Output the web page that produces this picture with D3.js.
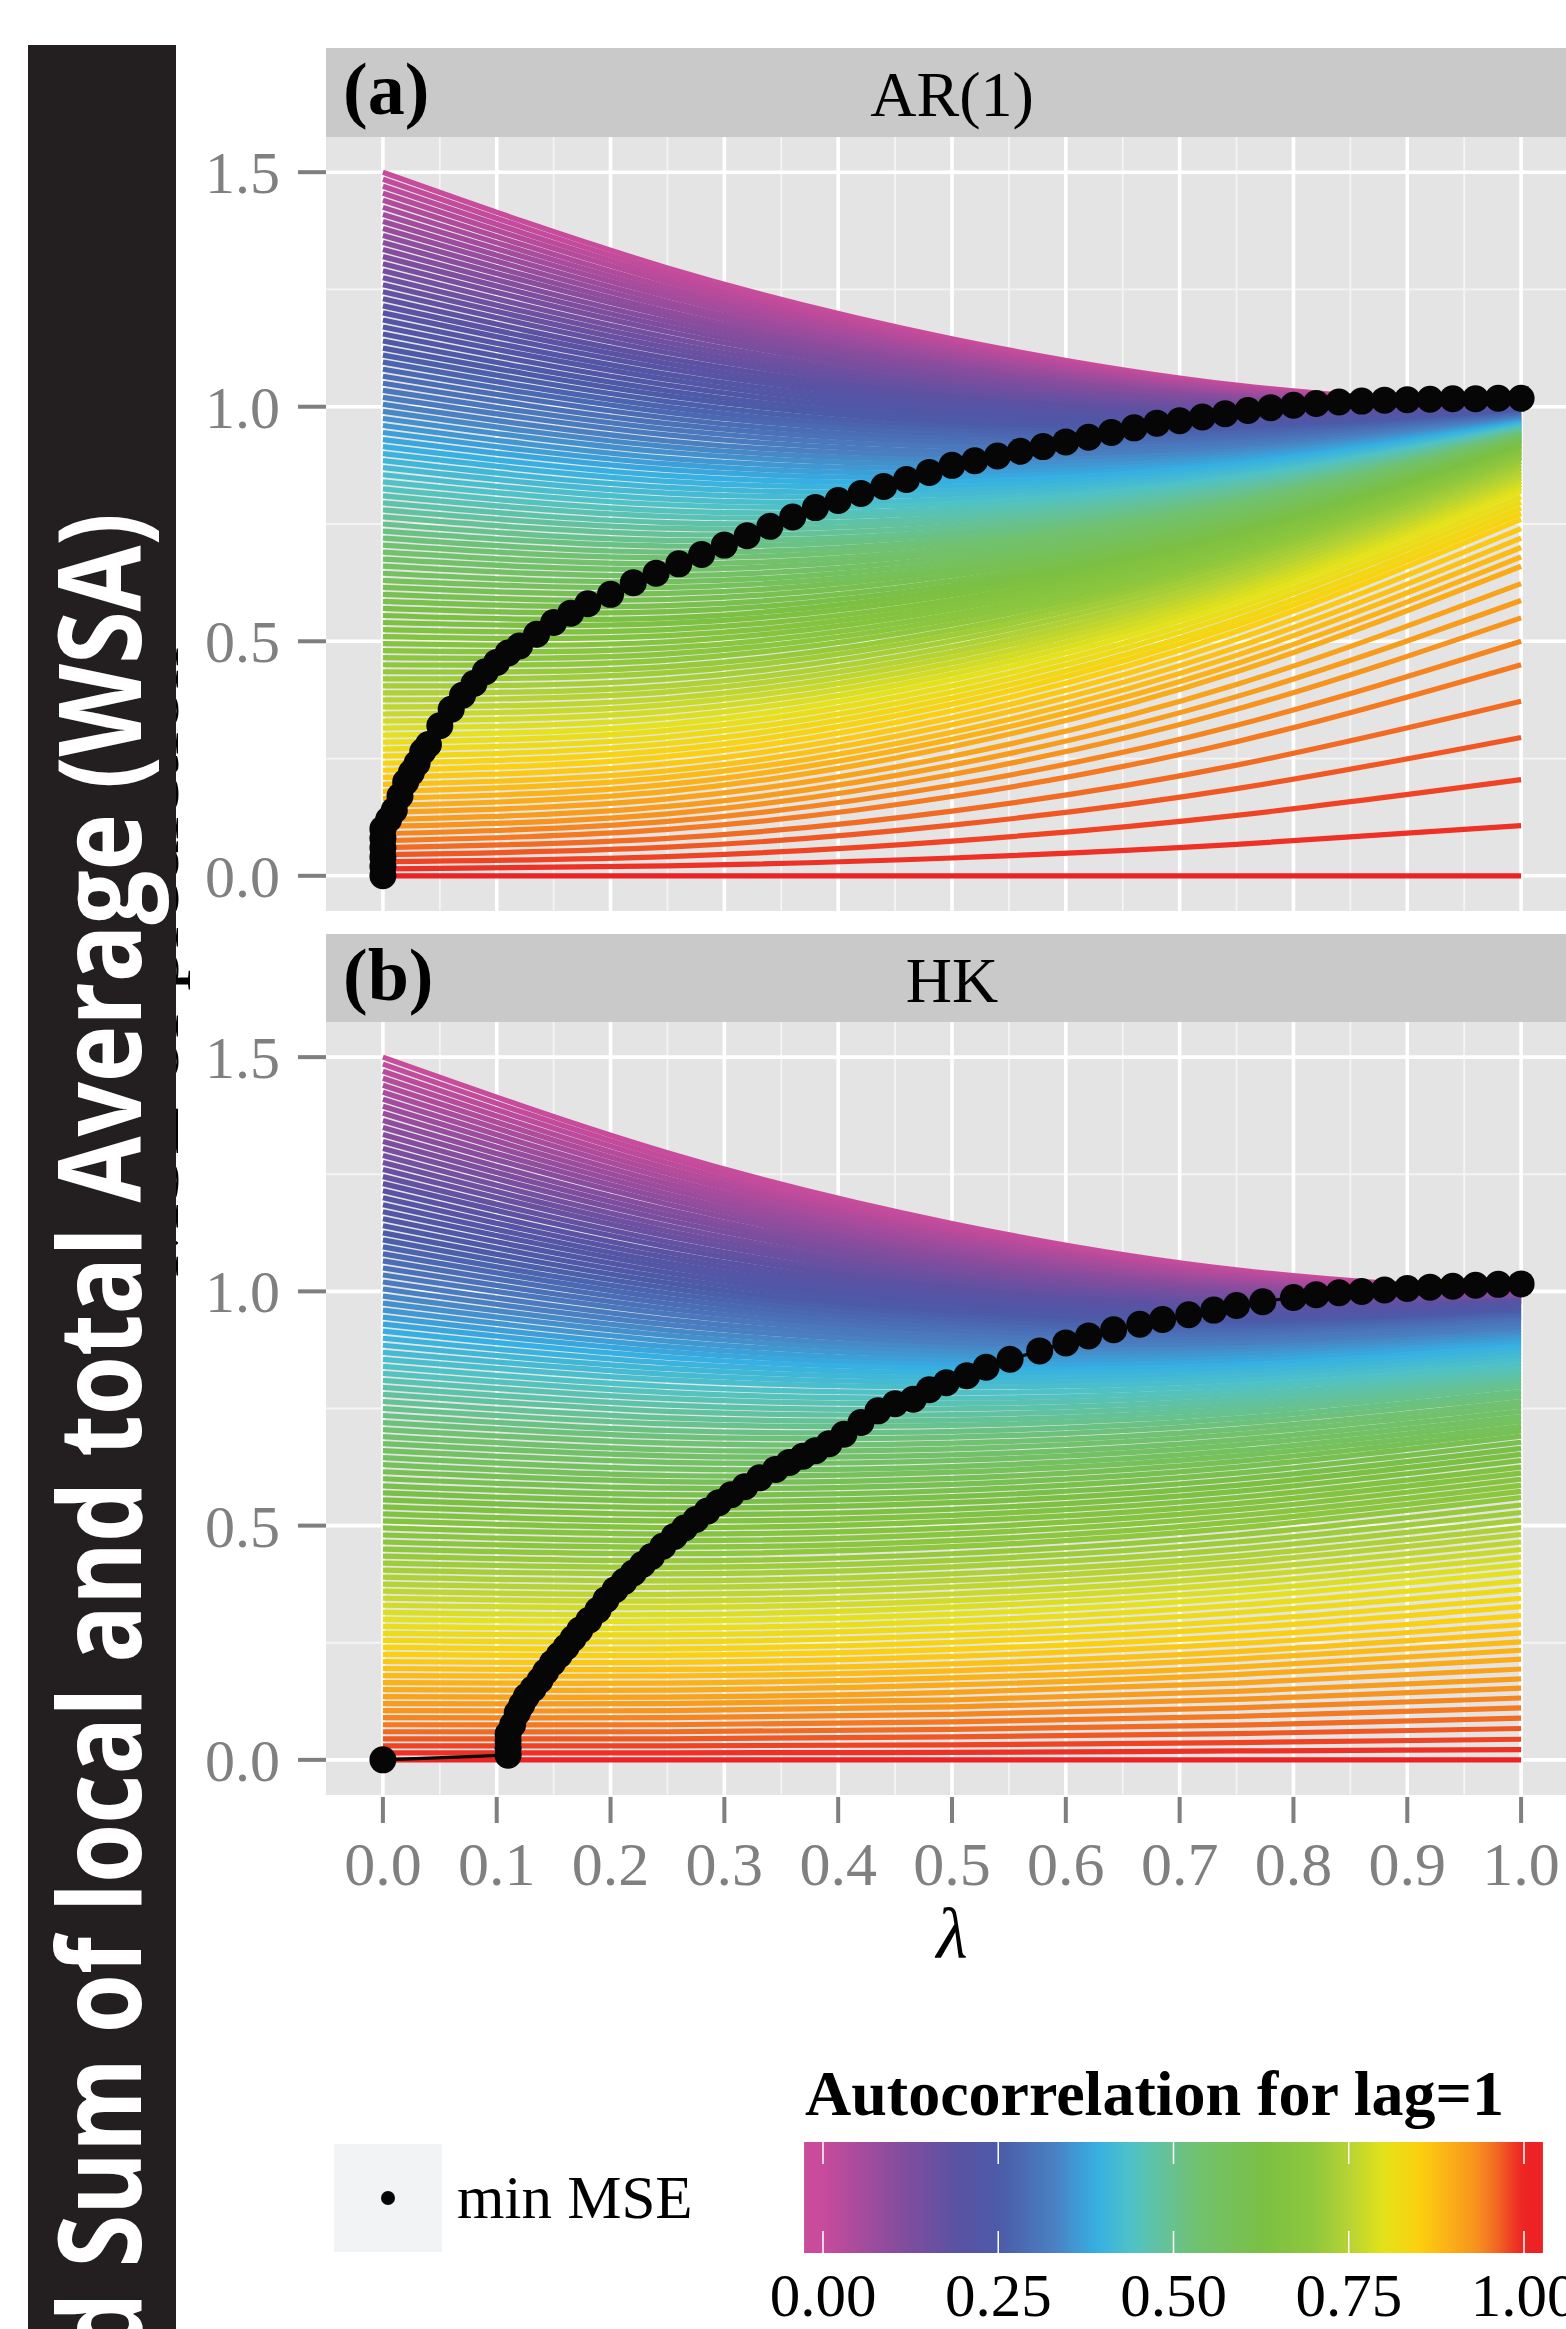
<!DOCTYPE html>
<html><head><meta charset="utf-8">
<script src="https://cdn.jsdelivr.net/npm/d3@7"></script>
<style>body{margin:0;background:#fff}svg{display:block}</style>
</head><body>
<svg id="c" width="1566" height="2329"></svg>
<script>
// ---------- axis / legend labels ----------
const lambdaTicks=[0,0.1,0.2,0.3,0.4,0.5,0.6,0.7,0.8,0.9,1.0];
const lambdaTickLabels=["0.0","0.1","0.2","0.3","0.4","0.5","0.6","0.7","0.8","0.9","1.0"];
const yTicks=[0,0.5,1.0,1.5];
const yTickLabels=["0.0","0.5","1.0","1.5"];
const barTicks=[0,0.25,0.5,0.75,1];
const barTickLabels=["0.00","0.25","0.50","0.75","1.00"];
const panelNames=["AR(1)","HK"];
const panelTags=["(a)","(b)"];
// ---------- data: one curve per lag-1 autocorrelation, MSE read at lambda grid ----------
const rhoLevels=[0,0.01,0.02,0.03,0.04,0.05,0.06,0.07,0.08,0.09,0.1,0.11,0.12,0.13,0.14,0.15,0.16,0.17,0.18,0.19,0.2,0.21,0.22,0.23,0.24,0.25,0.26,0.27,0.28,0.29,0.3,0.31,0.32,0.33,0.34,0.35,0.36,0.37,0.38,0.39,0.4,0.41,0.42,0.43,0.44,0.45,0.46,0.47,0.48,0.49,0.5,0.51,0.52,0.53,0.54,0.55,0.56,0.57,0.58,0.59,0.6,0.61,0.62,0.63,0.64,0.65,0.66,0.67,0.68,0.69,0.7,0.71,0.72,0.73,0.74,0.75,0.76,0.77,0.78,0.79,0.8,0.81,0.82,0.83,0.84,0.85,0.86,0.87,0.88,0.89,0.9,0.91,0.92,0.93,0.94,0.95,0.96,0.97,0.98,0.99,1];
const lambdaGrid=[0,0.25,0.5,0.75,1];
const mseLambda0=[1.500,1.485,1.470,1.455,1.440,1.425,1.410,1.395,1.380,1.365,1.350,1.335,1.320,1.305,1.290,1.275,1.260,1.245,1.230,1.215,1.200,1.185,1.170,1.155,1.140,1.125,1.110,1.095,1.080,1.065,1.050,1.035,1.020,1.005,0.990,0.975,0.960,0.945,0.930,0.915,0.900,0.885,0.870,0.855,0.840,0.825,0.810,0.795,0.780,0.765,0.750,0.735,0.720,0.705,0.690,0.675,0.660,0.645,0.630,0.615,0.600,0.585,0.570,0.555,0.540,0.525,0.510,0.495,0.480,0.465,0.450,0.435,0.420,0.405,0.390,0.375,0.360,0.345,0.330,0.315,0.300,0.285,0.270,0.255,0.240,0.225,0.210,0.195,0.180,0.165,0.150,0.135,0.120,0.105,0.090,0.075,0.060,0.045,0.030,0.015,0.000];
const arMse25=[1.296,1.286,1.276,1.266,1.255,1.245,1.235,1.224,1.214,1.203,1.193,1.182,1.171,1.160,1.148,1.137,1.126,1.115,1.103,1.092,1.081,1.069,1.058,1.046,1.034,1.023,1.011,0.999,0.988,0.976,0.964,0.952,0.940,0.927,0.915,0.903,0.890,0.878,0.866,0.853,0.841,0.828,0.816,0.803,0.791,0.778,0.766,0.753,0.741,0.728,0.715,0.703,0.690,0.678,0.665,0.653,0.640,0.627,0.615,0.602,0.589,0.576,0.563,0.550,0.538,0.525,0.512,0.499,0.486,0.473,0.460,0.446,0.433,0.419,0.405,0.392,0.378,0.365,0.351,0.337,0.323,0.310,0.296,0.282,0.268,0.254,0.239,0.224,0.210,0.195,0.180,0.164,0.148,0.132,0.116,0.099,0.080,0.061,0.041,0.021,0.000];
const arMse50=[1.145,1.139,1.133,1.127,1.120,1.114,1.108,1.101,1.095,1.088,1.082,1.075,1.067,1.060,1.052,1.045,1.037,1.030,1.022,1.014,1.007,0.999,0.990,0.982,0.974,0.966,0.957,0.949,0.941,0.932,0.924,0.915,0.905,0.896,0.887,0.878,0.869,0.859,0.850,0.841,0.831,0.822,0.813,0.803,0.794,0.784,0.775,0.765,0.756,0.746,0.736,0.727,0.717,0.708,0.698,0.689,0.679,0.669,0.659,0.650,0.640,0.629,0.619,0.609,0.599,0.588,0.578,0.568,0.557,0.547,0.536,0.524,0.513,0.501,0.489,0.477,0.466,0.454,0.442,0.430,0.418,0.405,0.392,0.379,0.366,0.352,0.337,0.322,0.306,0.291,0.275,0.255,0.236,0.216,0.193,0.169,0.138,0.108,0.074,0.038,0.000];
const arMse75=[1.046,1.043,1.041,1.038,1.035,1.032,1.029,1.026,1.023,1.020,1.017,1.013,1.009,1.006,1.002,0.998,0.994,0.990,0.986,0.982,0.978,0.973,0.969,0.964,0.959,0.954,0.949,0.944,0.939,0.934,0.928,0.923,0.917,0.912,0.906,0.900,0.895,0.889,0.883,0.878,0.872,0.866,0.860,0.854,0.849,0.843,0.837,0.831,0.825,0.819,0.813,0.807,0.801,0.795,0.789,0.783,0.777,0.770,0.764,0.758,0.752,0.745,0.737,0.730,0.723,0.716,0.709,0.701,0.694,0.687,0.679,0.670,0.661,0.651,0.641,0.632,0.622,0.613,0.603,0.593,0.583,0.571,0.559,0.546,0.534,0.521,0.504,0.487,0.470,0.452,0.435,0.408,0.382,0.355,0.321,0.286,0.236,0.186,0.129,0.067,0.000];
const arMse100=[1.000,1.000,1.000,0.999,0.999,0.999,0.998,0.998,0.998,0.998,0.998,0.997,0.997,0.997,0.996,0.996,0.996,0.996,0.996,0.995,0.995,0.993,0.992,0.990,0.988,0.987,0.985,0.983,0.982,0.980,0.978,0.977,0.975,0.974,0.972,0.970,0.969,0.967,0.965,0.964,0.962,0.960,0.959,0.957,0.955,0.954,0.952,0.950,0.948,0.947,0.945,0.943,0.941,0.939,0.937,0.935,0.933,0.931,0.929,0.927,0.925,0.921,0.918,0.915,0.911,0.907,0.904,0.901,0.897,0.893,0.890,0.883,0.876,0.869,0.862,0.855,0.848,0.841,0.834,0.827,0.820,0.808,0.796,0.784,0.772,0.760,0.740,0.720,0.700,0.680,0.660,0.623,0.587,0.550,0.500,0.450,0.372,0.295,0.205,0.107,0.000];
const hkMse25=[1.296,1.285,1.274,1.263,1.252,1.241,1.230,1.219,1.208,1.197,1.186,1.174,1.163,1.152,1.140,1.129,1.118,1.106,1.095,1.083,1.072,1.061,1.051,1.040,1.029,1.018,1.007,0.996,0.985,0.974,0.963,0.952,0.940,0.929,0.917,0.906,0.894,0.882,0.871,0.859,0.847,0.835,0.823,0.811,0.797,0.784,0.771,0.757,0.744,0.730,0.717,0.703,0.690,0.676,0.662,0.649,0.635,0.621,0.607,0.594,0.580,0.566,0.552,0.538,0.524,0.510,0.496,0.482,0.468,0.454,0.440,0.425,0.411,0.397,0.382,0.368,0.353,0.339,0.325,0.310,0.296,0.281,0.267,0.252,0.237,0.223,0.208,0.193,0.179,0.164,0.149,0.134,0.120,0.105,0.090,0.075,0.060,0.045,0.030,0.015,0.000];
const hkMse50=[1.145,1.138,1.130,1.123,1.116,1.108,1.101,1.093,1.086,1.078,1.070,1.063,1.055,1.047,1.039,1.032,1.024,1.016,1.008,1.000,0.992,0.984,0.977,0.970,0.962,0.954,0.947,0.939,0.931,0.923,0.915,0.906,0.898,0.889,0.880,0.871,0.862,0.853,0.844,0.835,0.826,0.816,0.806,0.796,0.784,0.772,0.761,0.749,0.737,0.725,0.714,0.701,0.689,0.676,0.664,0.651,0.639,0.626,0.614,0.601,0.588,0.575,0.562,0.549,0.535,0.522,0.509,0.495,0.482,0.468,0.455,0.440,0.426,0.412,0.397,0.383,0.369,0.354,0.340,0.326,0.311,0.296,0.281,0.266,0.251,0.236,0.221,0.205,0.190,0.175,0.160,0.144,0.128,0.113,0.097,0.081,0.065,0.049,0.032,0.016,0.000];
const hkMse75=[1.046,1.042,1.038,1.034,1.030,1.026,1.021,1.017,1.013,1.009,1.004,1.000,0.996,0.991,0.987,0.982,0.978,0.973,0.969,0.964,0.959,0.954,0.949,0.944,0.939,0.934,0.928,0.923,0.917,0.912,0.906,0.900,0.893,0.886,0.879,0.872,0.865,0.858,0.851,0.843,0.836,0.827,0.819,0.810,0.800,0.790,0.780,0.770,0.760,0.750,0.740,0.729,0.718,0.706,0.695,0.683,0.672,0.660,0.649,0.637,0.625,0.612,0.599,0.586,0.573,0.560,0.547,0.534,0.521,0.508,0.495,0.480,0.465,0.450,0.435,0.421,0.406,0.391,0.376,0.361,0.346,0.330,0.314,0.297,0.281,0.264,0.248,0.231,0.215,0.198,0.182,0.164,0.146,0.129,0.111,0.093,0.074,0.056,0.037,0.019,0.000];
const hkMse100=[1.000,0.999,0.998,0.996,0.995,0.994,0.992,0.991,0.990,0.989,0.988,0.986,0.985,0.984,0.982,0.981,0.980,0.979,0.978,0.976,0.975,0.971,0.967,0.964,0.960,0.956,0.952,0.948,0.945,0.941,0.937,0.931,0.925,0.919,0.913,0.907,0.902,0.896,0.890,0.884,0.878,0.870,0.862,0.854,0.846,0.838,0.829,0.821,0.813,0.805,0.797,0.786,0.776,0.765,0.755,0.744,0.733,0.723,0.712,0.702,0.691,0.678,0.665,0.652,0.639,0.625,0.612,0.599,0.586,0.573,0.560,0.544,0.528,0.512,0.496,0.481,0.465,0.449,0.433,0.417,0.401,0.382,0.364,0.345,0.327,0.308,0.289,0.271,0.252,0.234,0.215,0.194,0.173,0.153,0.132,0.111,0.089,0.067,0.044,0.022,0.000];
// ---------- data: min MSE points (lambda, MSE) ----------
const arDotLambda=[0,0,0,0,0,0,0.005,0.01,0.015,0.02,0.025,0.03,0.035,0.04,0.05,0.06,0.07,0.08,0.09,0.1,0.11,0.12,0.135,0.15,0.165,0.18,0.2,0.22,0.24,0.26,0.28,0.3,0.32,0.34,0.36,0.38,0.4,0.42,0.44,0.46,0.48,0.5,0.52,0.54,0.56,0.58,0.6,0.62,0.64,0.66,0.68,0.7,0.72,0.74,0.76,0.78,0.8,0.82,0.84,0.86,0.88,0.9,0.92,0.94,0.96,0.98,1.0];
const arDotMSE=[0,0.02,0.04,0.06,0.08,0.1,0.12,0.14,0.17,0.2,0.22,0.24,0.265,0.28,0.32,0.355,0.385,0.41,0.435,0.455,0.475,0.49,0.515,0.54,0.56,0.58,0.6,0.625,0.645,0.665,0.685,0.705,0.725,0.745,0.765,0.785,0.8,0.815,0.83,0.845,0.86,0.875,0.885,0.895,0.905,0.915,0.925,0.935,0.945,0.955,0.965,0.97,0.978,0.985,0.992,0.998,1.003,1.007,1.01,1.012,1.014,1.015,1.016,1.017,1.017,1.018,1.018];
const hkDotLambda=[0,0.11,0.11,0.11,0.11,0.114,0.118,0.122,0.126,0.132,0.138,0.143,0.149,0.155,0.161,0.167,0.173,0.181,0.189,0.196,0.204,0.212,0.22,0.228,0.236,0.246,0.256,0.265,0.275,0.285,0.295,0.306,0.318,0.331,0.345,0.357,0.369,0.38,0.392,0.405,0.42,0.435,0.45,0.466,0.48,0.495,0.513,0.53,0.551,0.577,0.6,0.62,0.642,0.665,0.685,0.708,0.73,0.75,0.773,0.8,0.82,0.84,0.86,0.88,0.9,0.92,0.94,0.96,0.98,1.0];
const hkDotMSE=[0,0.01,0.025,0.04,0.055,0.075,0.1,0.118,0.135,0.152,0.17,0.188,0.207,0.224,0.241,0.259,0.277,0.298,0.32,0.342,0.363,0.381,0.399,0.417,0.434,0.456,0.477,0.495,0.513,0.531,0.549,0.566,0.583,0.602,0.62,0.635,0.648,0.66,0.675,0.695,0.72,0.745,0.76,0.77,0.79,0.805,0.82,0.838,0.855,0.873,0.89,0.905,0.918,0.93,0.94,0.95,0.96,0.97,0.978,0.987,0.993,0.997,1.0,1.003,1.006,1.009,1.011,1.013,1.015,1.016];
// ---------- colour scale stops (autocorrelation -> colour) ----------
const palStops=[0,0.1,0.19,0.25,0.33,0.39,0.44,0.48,0.53,0.63,0.7,0.75,0.8,0.85,0.89,0.93,0.96,0.985,1];
const palColors=['#c94b9c','#8a4c9d','#5a52a3','#4c5aa8','#4a80c2','#36afe2','#4fc2c7','#62c2a0','#70c172','#7bc043','#8fc73d','#b6d333','#e4e21a','#fbd00f','#fbb216','#f7941d','#f26b22','#ee3924','#ed2224'];

const svg=d3.select('#c');
const serif='"Liberation Serif","Times New Roman",serif';
const color=d3.scaleLinear().domain(palStops).range(palColors).interpolate(d3.interpolateRgb).clamp(true);
const x=d3.scaleLinear().domain([-0.05,1.05]).range([326,1578]);
const panelData=[
  {cols:[mseLambda0,arMse25,arMse50,arMse75,arMse100],dl:arDotLambda,dm:arDotMSE},
  {cols:[mseLambda0,hkMse25,hkMse50,hkMse75,hkMse100],dl:hkDotLambda,dm:hkDotMSE}
];
const panels=[{top:137,bot:911,stripTop:48},{top:1022,bot:1795,stripTop:934}];
const defs=svg.append('defs');
panels.forEach((p,pi)=>{
  const y=d3.scaleLinear().domain([-0.075,1.575]).range([p.bot,p.top]);
  const g=svg.append('g');
  g.append('rect').attr('x',326).attr('y',p.stripTop).attr('width',1300).attr('height',p.top-p.stripTop).attr('fill','#c9c9c9');
  g.append('rect').attr('x',326).attr('y',p.top).attr('width',1300).attr('height',p.bot-p.top).attr('fill','#e3e4e3');
  const minorX=[0.05,0.15,0.25,0.35,0.45,0.55,0.65,0.75,0.85,0.95];
  g.selectAll('.mx').data(minorX).enter().append('line').attr('x1',d=>x(d)).attr('x2',d=>x(d)).attr('y1',p.top).attr('y2',p.bot).attr('stroke','#f4f4f4').attr('stroke-width',1.8);
  g.selectAll('.my').data([0.25,0.75,1.25]).enter().append('line').attr('x1',326).attr('x2',1600).attr('y1',d=>y(d)).attr('y2',d=>y(d)).attr('stroke','#f4f4f4').attr('stroke-width',1.8);
  g.selectAll('.Mx').data(lambdaTicks).enter().append('line').attr('x1',d=>x(d)).attr('x2',d=>x(d)).attr('y1',p.top).attr('y2',p.bot).attr('stroke','#fff').attr('stroke-width',3.6);
  g.selectAll('.My').data(yTicks).enter().append('line').attr('x1',326).attr('x2',1600).attr('y1',d=>y(d)).attr('y2',d=>y(d)).attr('stroke','#fff').attr('stroke-width',3.6);
  defs.append('clipPath').attr('id','cp'+pi).append('rect').attr('x',326).attr('y',p.top).attr('width',1300).attr('height',p.bot-p.top);
  const lg=g.append('g').attr('clip-path','url(#cp'+pi+')');
  const line=d3.line().x(d=>x(d[0])).y(d=>y(d[1])).curve(d3.curveNatural);
  const pd=panelData[pi];
  rhoLevels.forEach((r,i)=>{
    const pts=lambdaGrid.map((l,j)=>[l,pd.cols[j][i]]);
    lg.append('path').attr('d',line(pts)).attr('fill','none').attr('stroke',color(r)).attr('stroke-width',5.2);
  });
  const dots=pd.dl.map((l,i)=>[l,pd.dm[i]]);
  lg.append('path').attr('d',d3.line().x(d=>x(d[0])).y(d=>y(d[1]))(dots)).attr('fill','none').attr('stroke','#060606').attr('stroke-width',3.2);
  lg.selectAll('.dot').data(dots).enter().append('circle').attr('cx',d=>x(d[0])).attr('cy',d=>y(d[1])).attr('r',13.5).attr('fill','#060606');
  g.selectAll('.yt').data(yTicks).enter().append('line').attr('x1',298).attr('x2',326).attr('y1',d=>y(d)).attr('y2',d=>y(d)).attr('stroke','#7f7f7f').attr('stroke-width',4);
  g.selectAll('.yl').data(yTicks).enter().append('text').attr('x',280).attr('y',d=>y(d)+21).attr('text-anchor','end').attr('font-family',serif).attr('font-size',60).attr('fill','#808080').text((d,i)=>yTickLabels[i]);
  g.append('text').attr('x',952).attr('y',p.stripTop+68).attr('text-anchor','middle').attr('font-family',serif).attr('font-size',64).attr('fill','#000').text(panelNames[pi]);
  g.append('text').attr('x',343).attr('y',p.stripTop+66).attr('font-family',serif).attr('font-weight','bold').attr('font-size',74).attr('fill','#000').text(panelTags[pi]);
});
// x axis (bottom panel)
svg.selectAll('.xt').data(lambdaTicks).enter().append('line').attr('x1',d=>x(d)).attr('x2',d=>x(d)).attr('y1',1797).attr('y2',1823).attr('stroke','#7f7f7f').attr('stroke-width',4);
svg.selectAll('.xl').data(lambdaTicks).enter().append('text').attr('x',d=>x(d)).attr('y',1885).attr('text-anchor','middle').attr('font-family',serif).attr('font-size',62).attr('fill','#808080').text((d,i)=>lambdaTickLabels[i]);
svg.append('text').attr('x',952).attr('y',1958).attr('text-anchor','middle').attr('font-family',serif).attr('font-style','italic').attr('font-size',72).attr('fill','#000').text('λ');
// legend: min MSE
svg.append('rect').attr('x',334).attr('y',2144).attr('width',108).attr('height',108).attr('fill','#f2f3f4');
svg.append('circle').attr('cx',388).attr('cy',2198).attr('r',7).attr('fill','#060606');
svg.append('text').attr('x',457).attr('y',2218).attr('font-family',serif).attr('font-size',61).attr('fill','#000').text('min MSE');
// colour bar
const cb=d3.scaleLinear().domain([0,1]).range([823,1524]);
const grad=defs.append('linearGradient').attr('id','cbg').attr('x1',cb(-0.027)).attr('x2',cb(1.027)).attr('y1',0).attr('y2',0).attr('gradientUnits','userSpaceOnUse');
d3.range(0,101).forEach(i=>{const v=-0.027+i/100*1.054;grad.append('stop').attr('offset',i/100).attr('stop-color',color(v));});
svg.append('text').attr('x',805).attr('y',2115).attr('font-family',serif).attr('font-weight','bold').attr('font-size',64).attr('fill','#000').text('Autocorrelation for lag=1');
svg.append('rect').attr('x',cb(-0.027)).attr('y',2142).attr('width',cb(1.027)-cb(-0.027)).attr('height',111).attr('fill','url(#cbg)');
svg.selectAll('.cbt').data(barTicks).enter().append('line').attr('x1',d=>cb(d)).attr('x2',d=>cb(d)).attr('y1',2142).attr('y2',2164).attr('stroke','#fff').attr('stroke-width',1.5);
svg.selectAll('.cbb').data(barTicks).enter().append('line').attr('x1',d=>cb(d)).attr('x2',d=>cb(d)).attr('y1',2231).attr('y2',2253).attr('stroke','#fff').attr('stroke-width',1.5);
svg.selectAll('.cbl').data(barTicks).enter().append('text').attr('x',d=>cb(d)).attr('y',2316).attr('text-anchor','middle').attr('font-family',serif).attr('font-size',61).attr('fill','#000').text((d,i)=>barTickLabels[i]);
// original y title (mostly hidden) + overlaid title bar
svg.append('text').attr('transform','translate(178,1278) rotate(-90)').attr('font-family',serif).attr('font-size',58).attr('textLength',631).attr('lengthAdjust','spacingAndGlyphs').attr('fill','#000').text('MSE of prediction');
svg.append('rect').attr('x',28).attr('y',45).attr('width',148).attr('height',2300).attr('fill','#231f20');
const full='Weighted Sum of local and total Average (WSA)';
const tt=svg.append('text').attr('transform','translate(141,513) rotate(-90)').attr('text-anchor','end').attr('font-family','"Open Sans",sans-serif').attr('font-weight','bold').attr('font-size',115).attr('fill','#fff').text(full);
const tmp=svg.append('text').attr('font-family','"Open Sans",sans-serif').attr('font-weight','bold').attr('font-size',115).text('d Sum of local and total Average (WSA)');
const subLen=tmp.node().getComputedTextLength();tmp.remove();
const fullLen=tt.node().getComputedTextLength();
tt.attr('textLength',fullLen*1840/subLen).attr('lengthAdjust','spacingAndGlyphs');
</script>
</body></html>
